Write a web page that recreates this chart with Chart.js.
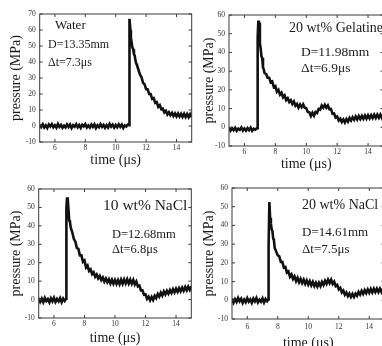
<!DOCTYPE html>
<html>
<head>
<meta charset="utf-8">
<script src="https://cdn.jsdelivr.net/npm/chart.js@4/dist/chart.umd.min.js"></script>
<style>
  html, body { margin: 0; padding: 0; background: #fff; }
  body { width: 382px; height: 346px; position: relative; overflow: hidden; }
  canvas { position: absolute; }
  .note { position: absolute; font-family: 'Liberation Serif', serif; color: #1a1a1a; line-height: 16px; white-space: nowrap; }
</style>
</head>
<body>
<canvas id="water"></canvas>
<canvas id="gelatine"></canvas>
<canvas id="nacl10"></canvas>
<canvas id="nacl20"></canvas>

<div class="note" style="left:55px;top:17px;font-size:13px">Water</div>
<div class="note" style="left:48px;top:36px;font-size:12px">D=13.35mm</div>
<div class="note" style="left:48px;top:54px;font-size:12px">Δt=7.3μs</div>

<div class="note" style="left:289px;top:20px;font-size:14px">20 wt% Gelatine</div>
<div class="note" style="left:301px;top:44px;font-size:13.5px">D=11.98mm</div>
<div class="note" style="left:301px;top:60px;font-size:13.5px">Δt=6.9μs</div>

<div class="note" style="left:103px;top:197px;font-size:15.5px">10 wt% NaCl</div>
<div class="note" style="left:112px;top:226px;font-size:12.5px">D=12.68mm</div>
<div class="note" style="left:112px;top:241px;font-size:12.5px">Δt=6.8μs</div>

<div class="note" style="left:302px;top:197px;font-size:14px">20 wt% NaCl</div>
<div class="note" style="left:302px;top:224px;font-size:13px">D=14.61mm</div>
<div class="note" style="left:302px;top:241px;font-size:13px">Δt=7.5μs</div>

<script>
const xTicks = [6, 8, 10, 12, 14];
const yTicksWater = [-10, 0, 10, 20, 30, 40, 50, 60, 70];
const yTicks = [-10, 0, 10, 20, 30, 40, 50, 60];

// water
const timeWater = [
  5.0,5.1,5.2,5.3,5.4,5.5,5.6,5.7,5.8,5.9,6.0,6.1,6.2,6.3,6.4,6.5,6.6,6.7,6.8,6.9,
  7.0,7.1,7.2,7.3,7.4,7.5,7.6,7.7,7.8,7.9,8.0,8.1,8.2,8.3,8.4,8.5,8.6,8.7,8.8,8.9,
  9.0,9.1,9.2,9.3,9.4,9.5,9.6,9.7,9.8,9.9,10.0,10.1,10.2,10.3,10.4,10.5,10.6,10.7,10.8,
  10.88,10.88,10.91,10.93,10.97,11.0,11.05,11.1,11.15,11.2,11.25,11.3,11.35,11.4,
  11.5,11.6,11.7,11.8,11.9,12.0,12.1,12.2,12.3,12.4,12.5,12.6,12.7,12.8,12.9,13.0,
  13.1,13.2,13.3,13.4,13.5,13.6,13.7,13.8,13.9,14.0,14.1,14.2,14.3,14.4,14.5,14.6,
  14.7,14.8,14.9,15.0
];
const pressureWater = [
  0.8,-0.6,1.1,-0.9,0.4,-1.2,0.9,-0.3,1.2,-0.8,0.5,-1.0,1.3,-0.5,0.7,-1.1,0.2,-0.9,1.0,-0.6,
  0.9,-1.3,0.5,-0.4,1.1,-0.8,0.6,-1.2,0.8,-0.2,1.2,-0.9,0.3,-1.0,0.9,-0.5,1.0,-1.3,0.4,-0.7,
  1.1,-0.6,0.7,-1.1,0.5,-0.9,1.3,-0.4,0.8,-1.0,0.6,-0.8,1.0,-0.5,0.9,-1.2,0.4,-0.3,0.9,
  0.5,24,26,67,60,55,52,49,48,45,44,41,39,38,
  35,32,30.5,27,26,23,23,20,20,17,17.5,14.5,15,12,13,10.5,
  10.8,8.5,9.5,7.2,8.6,6.8,8.2,6.3,7.9,6.0,7.8,5.9,7.6,5.7,7.6,5.6,
  7.5,5.5,7.4,5.6
];

// 20 wt% gelatine
const timeGelatine = [
  5.0,5.1,5.2,5.3,5.4,5.5,5.6,5.7,5.8,5.9,6.0,6.1,6.2,6.3,6.4,6.5,6.6,6.7,6.8,
  6.84,6.84,6.87,6.9,6.93,6.96,7.0,7.05,7.1,7.15,7.2,7.25,7.3,7.4,7.5,7.6,7.7,7.8,7.9,
  8.0,8.1,8.2,8.3,8.4,8.5,8.6,8.7,8.8,8.9,9.0,9.1,9.2,9.3,9.4,9.5,9.6,9.7,9.8,9.9,
  10.0,10.1,10.2,10.3,10.4,10.5,10.6,10.7,10.8,10.9,11.0,11.1,11.2,11.3,11.4,11.5,11.6,11.7,11.8,11.9,
  12.0,12.1,12.2,12.3,12.4,12.5,12.6,12.7,12.8,12.9,13.0,13.1,13.2,13.3,13.4,13.5,13.6,13.7,13.8,13.9,
  14.0,14.1,14.2,14.3,14.4,14.5,14.6,14.7,14.8,14.9,15.0
];
const pressureGelatine = [
  -0.2,-1.8,-0.5,-1.6,-0.3,-1.9,-0.7,-1.4,-0.1,-1.7,-0.6,-1.8,-0.4,-1.5,-0.2,-1.9,-0.8,-1.3,-0.5,
  -0.5,40,48,57,50,56,45,42,38,37,32,31,29,28.5,26.5,26.5,24,24.5,21.5,
  22,19,20,17.5,18.5,16,17,14.5,15.5,13.5,14.5,12.5,13.8,11.5,12.5,10.5,12.2,10.8,12.3,10.5,
  10.2,8.2,8.0,6.0,7.8,6.2,8.2,7.6,9.8,9.4,11.6,10.4,12.0,10.4,11.6,9.6,9.8,7.2,7.4,5.2,
  5.8,3.6,4.6,2.8,4.2,2.6,4.4,3.0,5.0,3.6,5.4,4.0,5.8,4.2,6.0,4.4,6.1,4.5,6.3,4.6,
  6.4,4.8,6.5,4.9,6.7,5.0,6.8,5.1,6.8,5.0,6.6
];

// 10 wt% NaCl
const timeNacl10 = [
  5.0,5.1,5.2,5.3,5.4,5.5,5.6,5.7,5.8,5.9,6.0,6.1,6.2,6.3,6.4,6.5,6.6,6.7,
  6.8,6.8,6.83,6.86,6.9,6.95,7.0,7.05,7.1,7.2,7.3,7.4,7.5,7.6,7.7,7.8,7.9,
  8.0,8.1,8.2,8.3,8.4,8.5,8.6,8.7,8.8,8.9,9.0,9.1,9.2,9.3,9.4,9.5,9.6,9.7,9.8,9.9,
  10.0,10.1,10.2,10.3,10.4,10.5,10.6,10.7,10.8,10.9,11.0,11.1,11.2,11.3,11.4,11.5,11.6,11.7,11.8,11.9,
  12.0,12.1,12.2,12.3,12.4,12.5,12.6,12.7,12.8,12.9,13.0,13.1,13.2,13.3,13.4,13.5,13.6,13.7,13.8,13.9,
  14.0,14.1,14.2,14.3,14.4,14.5,14.6,14.7,14.8,14.9,15.0
];
const pressureNacl10 = [
  0.8,-1.2,0.5,-1.4,0.9,-0.8,0.3,-1.5,0.7,-1.0,1.0,-1.3,0.4,-0.9,0.8,-1.4,0.6,-0.7,
  0.5,42,50,55.5,47,49,43,42,39,36.5,33,31.5,28,27.5,24,24,20.5,
  21.2,17.5,18.5,15.5,16.4,13.8,14.8,12.4,13.6,11.5,12.8,10.6,12.0,9.8,11.4,9.4,11.0,8.8,10.8,8.6,
  10.6,8.5,10.6,8.4,10.8,8.6,10.9,8.8,11.0,8.7,10.8,8.6,10.6,8.2,9.8,7.2,7.6,5.0,5.0,2.6,
  2.8,0.4,1.6,-0.4,1.4,-0.2,2.0,0.8,3.0,1.6,3.8,2.2,4.4,2.8,4.8,3.2,5.2,3.6,5.6,3.9,
  5.9,4.2,6.2,4.5,6.5,4.8,6.8,5.0,7.0,5.3,7.2
];

// 20 wt% NaCl
const timeNacl20 = [
  5.0,5.1,5.2,5.3,5.4,5.5,5.6,5.7,5.8,5.9,6.0,6.1,6.2,6.3,6.4,6.5,6.6,6.7,6.8,6.9,7.0,7.1,7.2,7.3,
  7.38,7.38,7.42,7.45,7.5,7.55,7.6,7.65,7.7,7.75,7.8,7.9,
  8.0,8.1,8.2,8.3,8.4,8.5,8.6,8.7,8.8,8.9,9.0,9.1,9.2,9.3,9.4,9.5,9.6,9.7,9.8,9.9,
  10.0,10.1,10.2,10.3,10.4,10.5,10.6,10.7,10.8,10.9,11.0,11.1,11.2,11.3,11.4,11.5,11.6,11.7,11.8,11.9,
  12.0,12.1,12.2,12.3,12.4,12.5,12.6,12.7,12.8,12.9,13.0,13.1,13.2,13.3,13.4,13.5,13.6,13.7,13.8,13.9,
  14.0,14.1,14.2,14.3,14.4,14.5,14.6,14.7,14.8,14.9,15.0
];
const pressureNacl20 = [
  1.0,-1.2,0.6,-0.9,1.3,-0.5,0.8,-1.4,0.4,-1.0,1.1,-0.7,0.5,-1.3,0.9,-0.6,1.2,-1.1,0.3,-0.8,1.0,-1.2,0.7,-0.5,
  0.5,28,29,52.5,44,41,38,37,33,32,28,26,
  24,23.5,20.5,20.5,17.5,17.8,14.8,15.4,12.6,13.8,11.4,12.8,10.2,12.0,9.6,11.4,9.2,11.0,8.8,10.6,
  8.4,10.2,8.0,9.8,7.6,9.4,7.4,9.4,7.6,9.8,8.2,10.4,8.8,11.0,9.2,11.0,8.8,10.0,7.6,8.2,
  5.8,6.6,4.2,5.2,3.0,4.2,2.2,3.6,1.8,3.4,1.8,3.6,2.4,4.4,3.0,5.0,3.4,5.4,3.8,5.8,
  4.0,6.0,4.2,6.2,4.4,6.2,4.4,6.2,4.4,6.2,4.6
];

const serif = "'Liberation Serif', 'Times New Roman', serif";

// frame round the plot area, with ticks pointing inwards
const framePlugin = {
  id: 'frame',
  afterDatasetsDraw(chart) {
    const { ctx, chartArea: a, scales: { x, y } } = chart;
    ctx.save();
    ctx.strokeStyle = '#3a3a3a';
    ctx.lineWidth = 1;
    ctx.strokeRect(a.left, a.top, a.right - a.left, a.bottom - a.top);
    ctx.beginPath();
    x.ticks.forEach((t) => {
      const px = x.getPixelForValue(t.value);
      ctx.moveTo(px, a.bottom); ctx.lineTo(px, a.bottom - 3);
      ctx.moveTo(px, a.top); ctx.lineTo(px, a.top + 3);
    });
    y.ticks.forEach((t) => {
      const py = y.getPixelForValue(t.value);
      ctx.moveTo(a.left, py); ctx.lineTo(a.left + 3, py);
      ctx.moveTo(a.right, py); ctx.lineTo(a.right - 3, py);
    });
    ctx.stroke();
    ctx.restore();
  }
};

function makePanel(id, box, area, yTitleX, xTitleY, xLabelPad, times, values, yMax, yTickList) {
  const canvas = document.getElementById(id);
  canvas.width = box.w;
  canvas.height = box.h;
  canvas.style.left = box.left + 'px';
  canvas.style.top = box.top + 'px';

  const titleFont = { family: serif, size: 14, lineHeight: 1.2 };
  const tickFont = { family: serif, size: 7.5 };

  return new Chart(canvas, {
    type: 'line',
    data: {
      datasets: [{
        data: times.map((t, i) => ({ x: t, y: values[i] })),
        borderColor: '#111',
        borderWidth: 2.6,
        pointRadius: 0,
        tension: 0,
      }]
    },
    options: {
      responsive: false,
      animation: false,
      devicePixelRatio: 1,
      layout: {
        padding: { left: 0, bottom: 0, top: area.t - box.top, right: box.left + box.w - area.r }
      },
      plugins: { legend: { display: false }, tooltip: { enabled: false } },
      scales: {
        x: {
          type: 'linear',
          min: 5,
          max: 15,
          grid: { display: false, drawTicks: false },
          border: { display: false },
          afterBuildTicks: (scale) => { scale.ticks = xTicks.map((v) => ({ value: v })); },
          afterFit: (scale) => { scale.height = box.top + box.h - area.b; },
          ticks: { font: tickFont, color: '#333', padding: xLabelPad, maxRotation: 0 },
          title: {
            display: true, text: 'time (μs)', color: '#1a1a1a', font: titleFont,
            padding: { top: 0, bottom: box.top + box.h - xTitleY - 8.4 }
          }
        },
        y: {
          type: 'linear',
          min: -10,
          max: yMax,
          grid: { display: false, drawTicks: false },
          border: { display: false },
          afterBuildTicks: (scale) => { scale.ticks = yTickList.map((v) => ({ value: v })); },
          afterFit: (scale) => { scale.width = area.l - box.left; },
          ticks: { font: tickFont, color: '#333', padding: 4 },
          title: {
            display: true, text: 'pressure (MPa)', color: '#1a1a1a', font: titleFont,
            padding: { top: yTitleX - box.left - 8.4, bottom: 0 }
          }
        }
      }
    },
    plugins: [framePlugin]
  });
}

makePanel('water', { left: 0, top: 0, w: 197, h: 173 }, { l: 39.7, t: 14, r: 191.7, b: 142 },
  16.7, 160.7, 2, timeWater, pressureWater, 70, yTicksWater);
makePanel('gelatine', { left: 191, top: 0, w: 200, h: 176 }, { l: 229, t: 15, r: 383.5, b: 146 },
  209.3, 164, 2, timeGelatine, pressureGelatine, 60, yTicks);
makePanel('nacl10', { left: 0, top: 173, w: 197, h: 173 }, { l: 38.7, t: 189, r: 191.3, b: 318 },
  16.7, 338, 2, timeNacl10, pressureNacl10, 60, yTicks);
makePanel('nacl20', { left: 191, top: 173, w: 200, h: 175 }, { l: 232, t: 188, r: 384.5, b: 319 },
  209.3, 343, 3.5, timeNacl20, pressureNacl20, 60, yTicks);
</script>
</body>
</html>
